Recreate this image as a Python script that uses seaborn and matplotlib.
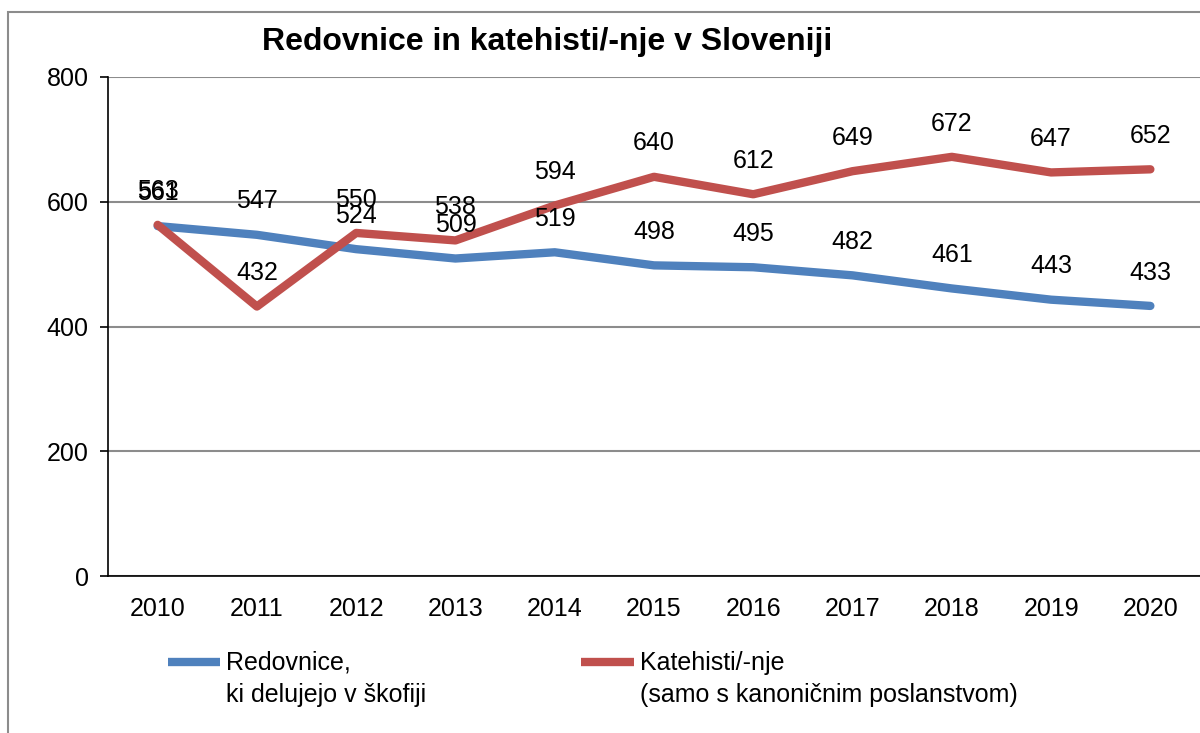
import matplotlib.pyplot as plt
import matplotlib.patches as mpatches
from matplotlib.legend_handler import HandlerLine2D
import seaborn as sns
import numpy as np
import pandas as pd

years = ["2010", "2011", "2012", "2013", "2014", "2015", "2016", "2017", "2018", "2019", "2020"]
redovnice = [561, 547, 524, 509, 519, 498, 495, 482, 461, 443, 433]
katehisti = [563, 432, 550, 538, 594, 640, 612, 649, 672, 647, 652]
series_names = ["Redovnice,\nki delujejo v škofiji", "Katehisti/-nje\n(samo s kanoničnim poslanstvom)"]
colors = ["#4F81BD", "#C0504D"]

df = pd.DataFrame({
    "pos": list(range(len(years))) * 2,
    "value": redovnice + katehisti,
    "series": [series_names[0]] * len(years) + [series_names[1]] * len(years),
})


class FirstLineHandler(HandlerLine2D):
    # put the legend line next to the first text line, like Excel does
    def create_artists(self, legend, orig_handle, xdescent, ydescent, width, height, fontsize, trans):
        arts = super().create_artists(legend, orig_handle, xdescent, ydescent, width, height, fontsize, trans)
        for a in arts:
            a.set_ydata(np.asarray(a.get_ydata()) + fontsize * 0.72)
        return arts


sns.set_style("white")
plt.rcParams["font.family"] = ["Liberation Sans", "DejaVu Sans"]
plt.rcParams["text.color"] = "black"
plt.rcParams["xtick.color"] = "black"
plt.rcParams["ytick.color"] = "black"

fig = plt.figure(figsize=(12, 7.33), dpi=100)
ax = fig.add_axes([108 / 1200, 1 - 576 / 733, 1 - 108 / 1200, (576 - 77) / 733])

# figure border
fig.patches.append(mpatches.Rectangle((8 / 1200, -0.05), 1.2, 1 - 12 / 733 + 0.05,
                                      transform=fig.transFigure, fill=False,
                                      edgecolor="#8c8c8c", linewidth=1.5))

sns.lineplot(data=df, x="pos", y="value", hue="series", palette=colors,
             linewidth=6, ax=ax, legend=False)

# data labels
for vals in [redovnice, katehisti]:
    for i, v in enumerate(vals):
        ax.annotate(str(v), (i, v), xytext=(0, 24), textcoords="offset points",
                    ha="center", va="center", fontsize=18, color="black")

ax.set_xlim(-0.5, len(years) - 0.5)
ax.set_ylim(0, 800)
ax.set_yticks([0, 200, 400, 600, 800])
ax.yaxis.grid(True, color="#8c8c8c", linewidth=1.5)
ax.set_axisbelow(True)

ax.set_xticks(range(len(years)))
ax.set_xticklabels(years)
ax.set_xticks(np.arange(-0.5, len(years)), minor=True)
ax.tick_params(axis="x", which="major", length=0, pad=15, labelsize=18)
ax.tick_params(axis="x", which="minor", length=6, width=1.2, color="black", direction="out")
ax.tick_params(axis="y", length=6, width=1.2, color="black", direction="out", pad=8, labelsize=18, left=True)

ax.set_xlabel("")
ax.set_ylabel("")
for side in ["top", "right"]:
    ax.spines[side].set_visible(False)
for side in ["left", "bottom"]:
    ax.spines[side].set_color("black")
    ax.spines[side].set_linewidth(1.2)

fig.text(547 / 1200, 1 - 42 / 733, "Redovnice in katehisti/-nje v Sloveniji",
         ha="center", va="center", fontsize=23, fontweight="bold")

handles = [plt.Line2D([], [], color=c, linewidth=6, solid_capstyle="butt") for c in colors]
leg = fig.legend(handles, series_names, loc="center left",
                 bbox_to_anchor=(145 / 1200, 1 - 679 / 733), ncol=2, frameon=False,
                 fontsize=18, handlelength=2.1, handletextpad=0.25, columnspacing=6.2,
                 handler_map={plt.Line2D: FirstLineHandler()})
for t in leg.get_texts():
    t.set_linespacing(1.45)

fig.savefig("out.png", dpi=100)
